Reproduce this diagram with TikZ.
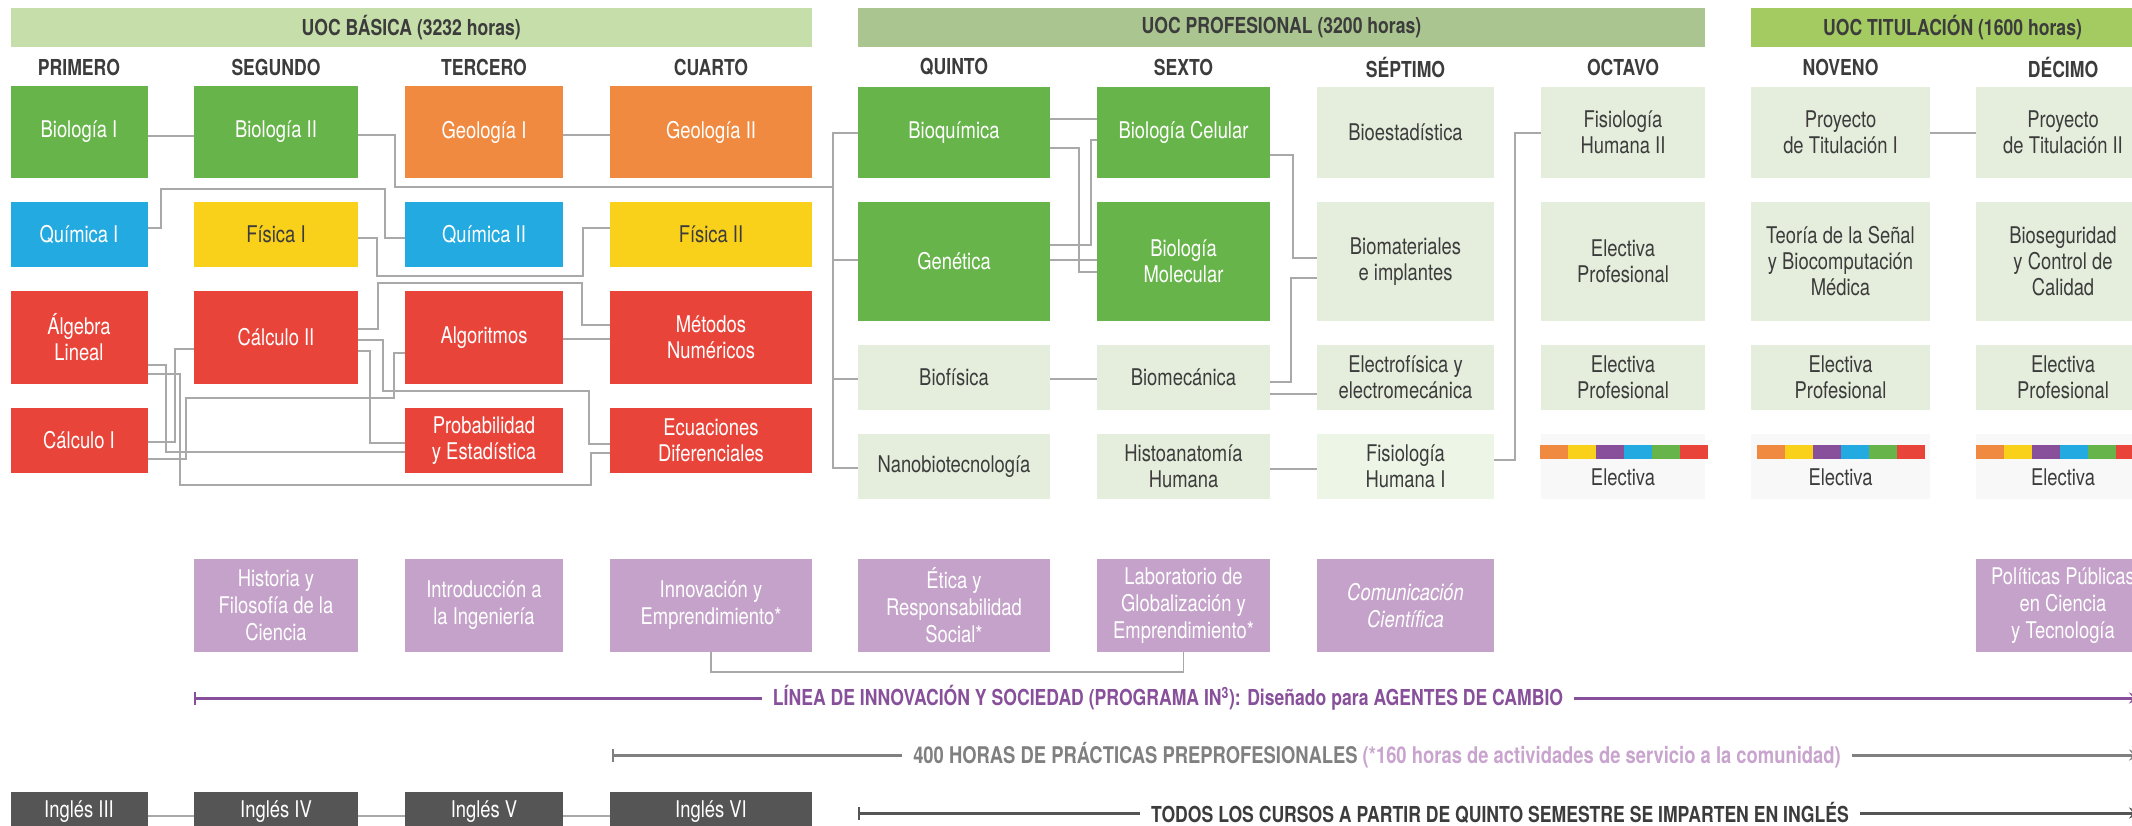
\documentclass[tikz,border=0pt]{standalone}
\usepackage{fontspec}
\setmainfont{TeX Gyre Heros}[FakeStretch=0.8]
\usetikzlibrary{arrows.meta}

\definecolor{hdrbasic}{HTML}{C6DEA9}
\definecolor{hdrprof}{HTML}{ABC590}
\definecolor{hdrtit}{HTML}{A3CB62}
\definecolor{cgreen}{HTML}{67B54A}
\definecolor{corange}{HTML}{F08A40}
\definecolor{cblue}{HTML}{22AAE1}
\definecolor{cyellow}{HTML}{F9D01A}
\definecolor{cred}{HTML}{E9443A}
\definecolor{clight}{HTML}{E5EEDC}
\definecolor{clighter}{HTML}{EDF5E7}
\definecolor{celec}{HTML}{F8F8F8}
\definecolor{cpurple}{HTML}{C4A2C9}
\definecolor{clinea}{HTML}{88509B}
\definecolor{cdark}{HTML}{555555}
\definecolor{ctext}{HTML}{3C3C3C}
\definecolor{clink}{HTML}{A9A9A9}
\definecolor{cprac}{HTML}{808080}
\definecolor{cpracnote}{HTML}{C8A4CE}

\begin{document}
\begin{tikzpicture}[x=1pt,y=-1pt,
        every node/.style={inner sep=0pt,align=center,font=\fontsize{23}{26}\selectfont},
        course/.style={fill=#1,text=white},
        soft/.style={fill=clight,text=ctext},
        hdr/.style={fill=#1,text=ctext,minimum height=39pt,font=\bfseries\fontsize{22}{26}\selectfont},
        sem/.style={text=ctext,font=\bfseries\fontsize{22}{26}\selectfont},
        c1/.style={minimum width=137pt},c2/.style={minimum width=164pt},
        c3/.style={minimum width=158pt},c4/.style={minimum width=202pt},
        c5/.style={minimum width=192pt},c6/.style={minimum width=173pt},
        c7/.style={minimum width=177pt},c8/.style={minimum width=164pt},
        c9/.style={minimum width=179pt},c10/.style={minimum width=174pt},
        hA/.style={minimum height=92pt},hB/.style={minimum height=65pt},
        hC/.style={minimum height=119pt},hD/.style={minimum height=40pt},
        link/.style={draw=clink,line width=1.6pt},
        track/.style={line width=3pt,arrows={Bar[width=13pt,line width=1.6pt]-Stealth[length=13pt,width=11pt]}},
        tracktext/.style={fill=white,inner xsep=11pt,font=\bfseries\fontsize{22}{26}\selectfont}]

    \useasboundingbox (0,0) rectangle (2132,825);
    \clip (0,0) rectangle (2132,825);

    % bloques
    \node[hdr=hdrbasic,minimum width=801.5pt] (uocB) at (411.25,27.5) {UOC BÁSICA (3232 horas)};
    \node[hdr=hdrprof,minimum width=847pt] (uocP) at (1281.5,27.5) {UOC PROFESIONAL (3200 horas)};
    \node[hdr=hdrtit,minimum width=403pt] (uocT) at (1952.5,27.5) {UOC TITULACIÓN (1600 horas)};

    \node[sem] (sem1) at (79,67) {PRIMERO};
    \node[sem] (sem2) at (276,67) {SEGUNDO};
    \node[sem] (sem3) at (484,67) {TERCERO};
    \node[sem] (sem4) at (711,67) {CUARTO};
    \node[sem] (sem5) at (954,67) {QUINTO};
    \node[sem] (sem6) at (1183.5,67) {SEXTO};
    \node[sem] (sem7) at (1405.5,67) {SÉPTIMO};
    \node[sem] (sem8) at (1623,67) {OCTAVO};
    \node[sem] (sem9) at (1840.5,67) {NOVENO};
    \node[sem] (sem10) at (2063,67) {DÉCIMO};

    % basica
    \node[course=cgreen,c1,hA] (bioI) at (79,132) {Biología I};
    \node[course=cgreen,c2,hA] (bioII) at (276,132) {Biología II};
    \node[course=corange,c3,hA] (geoI) at (484,132) {Geología I};
    \node[course=corange,c4,hA] (geoII) at (711,132) {Geología II};
    \node[course=cblue,c1,hB] (quiI) at (79,234.5) {Química I};
    \node[course=cyellow,text=ctext,c2,hB] (fisI) at (276,234.5) {Física I};
    \node[course=cblue,c3,hB] (quiII) at (484,234.5) {Química II};
    \node[course=cyellow,text=ctext,c4,hB] (fisII) at (711,234.5) {Física II};
    \node[course=cred,c1,minimum height=93pt] (algeb) at (79,337.5) {Álgebra\\Lineal};
    \node[course=cred,c2,minimum height=93pt] (calII) at (276,337.5) {Cálculo II};
    \node[course=cred,c3,minimum height=93pt] (algo) at (484,337.5) {Algoritmos};
    \node[course=cred,c4,minimum height=93pt] (met) at (711,337.5) {Métodos\\Numéricos};
    \node[course=cred,c1,hB] (calI) at (79,440.5) {Cálculo I};
    \node[course=cred,c3,hB] (prob) at (484,440.5) {Probabilidad\\y Estadística};
    \node[course=cred,c4,hB] (ecu) at (711,440.5) {Ecuaciones\\Diferenciales};

    % profesional y titulacion
    \node[course=cgreen,c5,minimum height=91pt] (bioq) at (954,132.5) {Bioquímica};
    \node[course=cgreen,c6,minimum height=91pt] (cel) at (1183.5,132.5) {Biología Celular};
    \node[soft,c7,minimum height=91pt] (bioest) at (1405.5,132.5) {Bioestadística};
    \node[soft,c8,minimum height=91pt] (fisioII) at (1623,132.5) {Fisiología\\Humana II};
    \node[soft,c9,minimum height=91pt] (proyI) at (1840.5,132.5) {Proyecto\\de Titulación I};
    \node[soft,c10,minimum height=91pt] (proyII) at (2063,132.5) {Proyecto\\de Titulación II};
    \node[course=cgreen,c5,hC] (gen) at (954,261.5) {Genética};
    \node[course=cgreen,c6,hC] (mol) at (1183.5,261.5) {Biología\\Molecular};
    \node[soft,c7,hC] (biomat) at (1405.5,261.5) {Biomateriales\\e implantes};
    \node[soft,c8,hC] (electP) at (1623,261.5) {Electiva\\Profesional};
    \node[soft,c9,hC] (senal) at (1840.5,261.5) {Teoría de la Señal\\y Biocomputación\\Médica};
    \node[soft,c10,hC] (biosec) at (2063,261.5) {Bioseguridad\\y Control de\\Calidad};
    \node[soft,c5,hB] (biof) at (954,377.5) {Biofísica};
    \node[soft,c6,hB] (biomec) at (1183.5,377.5) {Biomecánica};
    \node[soft,c7,hB] (electro) at (1405.5,377.5) {Electrofísica y\\electromecánica};
    \node[soft,c8,hB] (electPb) at (1623,377.5) {Electiva\\Profesional};
    \node[soft,c9,hB] (electPc) at (1840.5,377.5) {Electiva\\Profesional};
    \node[soft,c10,hB] (electPd) at (2063,377.5) {Electiva\\Profesional};
    \node[soft,c5,hB] (nano) at (954,466.5) {Nanobiotecnología};
    \node[soft,c6,hB] (histo) at (1183.5,466.5) {Histoanatomía\\Humana};
    \node[soft,fill=clighter,c7,hB] (fisioI) at (1405.5,466.5) {Fisiología\\Humana I};
    \node[soft,fill=celec,c8,hB] (elecVIII) at (1623,466.5) {};
    \node[soft,fill=celec,c9,hB] (elecIX) at (1840.5,466.5) {};
    \node[soft,fill=celec,c10,hB] (elecX) at (2063,466.5) {};
    \foreach \bx in {1540,1757,1976}
        \foreach \bc [count=\bi from 0] in {corange,cyellow,clinea,cblue,cgreen,cred}
            \fill[\bc] (\bx+\bi*28,445) rectangle ++(28,14);
    \node[text=ctext] (elecVIIIt) at ([yshift=-10.5pt]elecVIII.center) {Electiva};
    \node[text=ctext] (elecIXt) at ([yshift=-10.5pt]elecIX.center) {Electiva};
    \node[text=ctext] (elecXt) at ([yshift=-10.5pt]elecX.center) {Electiva};

    % linea de innovacion
    \node[course=cpurple,c2,minimum height=93pt,font=\fontsize{23}{27}\selectfont] (hist) at (276,605.5) {Historia y\\Filosofía de la\\Ciencia};
    \node[course=cpurple,c3,minimum height=93pt,font=\fontsize{23}{27}\selectfont] (intro) at (484,605.5) {Introducción a\\la Ingeniería};
    \node[course=cpurple,c4,minimum height=93pt,font=\fontsize{23}{27}\selectfont] (innov) at (711,605.5) {Innovación y\\Emprendimiento*};
    \node[course=cpurple,c5,minimum height=93pt,font=\fontsize{23}{27}\selectfont] (etica) at (954,605.5) {Ética y\\Responsabilidad\\Social*};
    \node[course=cpurple,c6,minimum height=93pt,font=\fontsize{23}{27}\selectfont] (lab) at (1183.5,605.5) {Laboratorio de\\Globalización y\\Emprendimiento*};
    \node[course=cpurple,c7,minimum height=93pt,font=\itshape\fontsize{23}{27}\selectfont] (comun) at (1405.5,605.5) {Comunicación\\Científica};
    \node[course=cpurple,c10,minimum height=93pt,font=\fontsize{23}{27}\selectfont] (polit) at (2063,605.5) {Políticas Públicas\\en Ciencia\\y Tecnología};

    % ingles
    \node[course=cdark,c1,hD] (ingIII) at (79,812) {Inglés III};
    \node[course=cdark,c2,hD] (ingIV) at (276,812) {Inglés IV};
    \node[course=cdark,c3,hD] (ingV) at (484,812) {Inglés V};
    \node[course=cdark,c4,hD] (ingVI) at (711,812) {Inglés VI};

    % prerrequisitos
    \draw[link] (bioI.east |- 0,136) -- (bioII.west |- 0,136);
    \draw[link] (geoI.east |- 0,135) -- (geoII.west |- 0,135);
    \draw[link] (bioII.east |- 0,135) -| (395,187) -- (833,187);
    \draw[link] (bioq.west |- 0,133) -| (833,468) -- (nano.west |- 0,468);
    \draw[link] (833,260) -- (gen.west |- 0,260);
    \draw[link] (833,379) -- (biof.west |- 0,379);
    \draw[link] (quiI.east |- 0,228) -| (161,189) -| (385,238) -- (quiII.west |- 0,238);
    \draw[link] (fisI.east |- 0,238) -| (377,276) -| (583,228) -- (fisII.west |- 0,228);
    \draw[link] (calII.east |- 0,329) -| (378,283) -| (582,325) -- (met.west |- 0,325);
    \draw[link] (algo.east |- 0,339) -- (met.west |- 0,339);
    \draw[link] (calII.east |- 0,340) -| (383,391) -| (589,444) -- (ecu.west |- 0,444);
    \draw[link] (calII.east |- 0,351) -| (370,443) -- (prob.west |- 0,443);
    \draw[link] (algeb.east |- 0,365) -| (166,452) -- (prob.west |- 0,452);
    \draw[link] (algeb.east |- 0,374) -| (180,485) -| (591,453) -- (ecu.west |- 0,453);
    \draw[link] (calI.east |- 0,442) -| (175,349) -- (calII.west |- 0,349);
    \draw[link] (calI.east |- 0,459) -| (186,398) -| (394,353) -- (algo.west |- 0,353);
    \draw[link] (bioq.east |- 0,119) -- (cel.west |- 0,119);
    \draw[link] (bioq.east |- 0,148) -| (1079,272) -- (mol.west |- 0,272);
    \draw[link] (gen.east |- 0,245) -| (1091,140) -- (cel.west |- 0,140);
    \draw[link] (gen.east |- 0,260) -- (mol.west |- 0,260);
    \draw[link] (cel.east |- 0,155) -| (1293,258) -- (biomat.west |- 0,258);
    \draw[link] (biomec.east |- 0,382) -| (1291,278) -- (biomat.west |- 0,278);
    \draw[link] (biomec.east |- 0,394) -- (electro.west |- 0,394);
    \draw[link] (biof.east |- 0,379) -- (biomec.west |- 0,379);
    \draw[link] (histo.east |- 0,469) -- (fisioI.west |- 0,469);
    \draw[link] (fisioI.east |- 0,460) -| (1515,133) -- (fisioII.west |- 0,133);
    \draw[link] (proyI.east |- 0,133) -- (proyII.west |- 0,133);
    \draw[link] (innov.south) |- (lab.south |- 0,672) -- (lab.south);
    \draw[link] (ingIII.east |- 0,816) -- (ingIV.west |- 0,816);
    \draw[link] (ingIV.east |- 0,816) -- (ingV.west |- 0,816);
    \draw[link] (ingV.east |- 0,816) -- (ingVI.west |- 0,816);

    % lineas inferiores
    \coordinate (linA) at (194,698);
    \coordinate (linB) at (2142,698);
    \coordinate (pracA) at (612,755);
    \coordinate (pracB) at (2142,755);
    \coordinate (engA) at (858,813);
    \coordinate (engB) at (2142,813);
    \draw[track,draw=clinea] (linA) -- (linB)
        node[midway,tracktext,text=clinea] (linT) {LÍNEA DE INNOVACIÓN Y SOCIEDAD (PROGRAMA IN\textsuperscript{3}): Diseñado para AGENTES DE CAMBIO};
    \draw[track,draw=cprac] (pracA) -- (pracB)
        node[midway,tracktext,text=cprac,font=\bfseries\fontsize{23}{26}\selectfont] (pracT) {400 HORAS DE PRÁCTICAS PREPROFESIONALES {\color{cpracnote}(*160 horas de actividades de servicio a la comunidad)}};
    \draw[track,draw=cdark] (engA) -- (engB)
        node[midway,tracktext,text=ctext] (engT) {TODOS LOS CURSOS A PARTIR DE QUINTO SEMESTRE SE IMPARTEN EN INGLÉS};
\end{tikzpicture}
\end{document}
